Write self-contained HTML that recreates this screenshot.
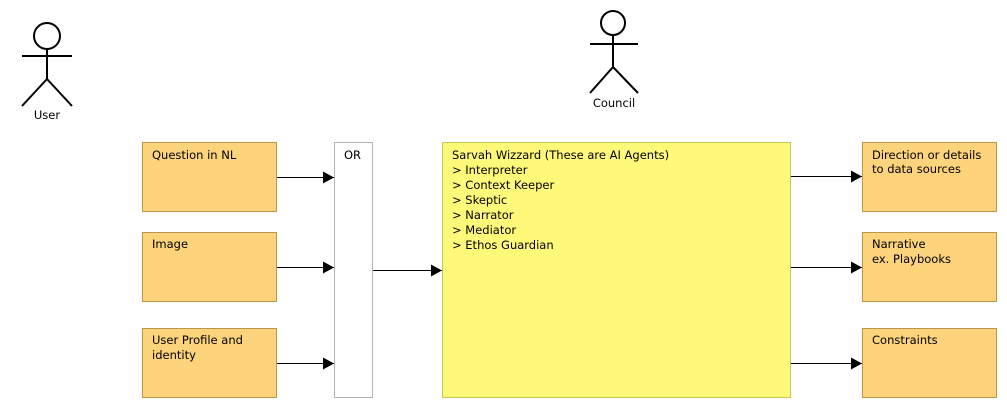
<!DOCTYPE html>
<html><head><meta charset="utf-8"><style>
html,body{margin:0;padding:0;background:#fff;}
svg{display:block;}
text{font-family:"DejaVu Sans","Liberation Sans",sans-serif;font-size:11.5px;fill:#000;}
</style></head><body>
<svg width="1007" height="408" viewBox="0 0 1007 408" xmlns="http://www.w3.org/2000/svg">
<defs>
<marker id="a" markerWidth="12" markerHeight="12" refX="11" refY="6" orient="auto" markerUnits="userSpaceOnUse">
<path d="M0,0 L11,6 L0,12 Z" fill="#000"/>
</marker>
</defs>
<g stroke="#000" stroke-width="2" fill="none">
<circle cx="47" cy="36" r="13"/>
<line x1="22" y1="56" x2="72" y2="56"/>
<line x1="47" y1="49" x2="47" y2="79"/>
<line x1="47" y1="79" x2="22" y2="106"/>
<line x1="47" y1="79" x2="72" y2="106"/>
</g>
<text x="47" y="119" text-anchor="middle">User</text>
<g stroke="#000" stroke-width="2" fill="none">
<circle cx="613" cy="23" r="12"/>
<line x1="590" y1="44" x2="638" y2="44"/>
<line x1="613" y1="35" x2="613" y2="67"/>
<line x1="613" y1="67" x2="590" y2="93"/>
<line x1="613" y1="67" x2="638" y2="93"/>
</g>
<text x="614" y="107" text-anchor="middle">Council</text>
<g fill="#fdd37b" stroke="#b8974a" stroke-width="1">
<rect x="142.5" y="142.5" width="134" height="69"/>
<rect x="142.5" y="232.5" width="134" height="69"/>
<rect x="142.5" y="328.5" width="134" height="69"/>
<rect x="862.5" y="142.5" width="134" height="69"/>
<rect x="862.5" y="232.5" width="134" height="69"/>
<rect x="862.5" y="328.5" width="134" height="69"/>
</g>
<text x="152" y="159">Question in NL</text>
<text x="152" y="248">Image</text>
<text x="152" y="344">User Profile and</text>
<text x="152" y="359">identity</text>
<text x="872" y="159">Direction or details</text>
<text x="872" y="173">to data sources</text>
<text x="872" y="248">Narrative</text>
<text x="872" y="263">ex. Playbooks</text>
<text x="872" y="344">Constraints</text>
<rect x="334.5" y="142.5" width="38" height="255" fill="#fff" stroke="#b3b3b3"/>
<text x="344" y="159">OR</text>
<rect x="442.5" y="142.5" width="348" height="255" fill="#fff97a" stroke="#c9c458"/>
<text x="452" y="159">Sarvah Wizzard (These are AI Agents)</text>
<text x="452" y="174">&gt; Interpreter</text>
<text x="452" y="189">&gt; Context Keeper</text>
<text x="452" y="204">&gt; Skeptic</text>
<text x="452" y="219">&gt; Narrator</text>
<text x="452" y="234">&gt; Mediator</text>
<text x="452" y="249">&gt; Ethos Guardian</text>
<g stroke="#000" stroke-width="1" marker-end="url(#a)">
<line x1="277" y1="177.5" x2="334" y2="177.5"/>
<line x1="277" y1="267.5" x2="334" y2="267.5"/>
<line x1="277" y1="363.5" x2="334" y2="363.5"/>
<line x1="373" y1="270.5" x2="442" y2="270.5"/>
<line x1="791" y1="176.5" x2="862" y2="176.5"/>
<line x1="791" y1="267.5" x2="862" y2="267.5"/>
<line x1="791" y1="363.5" x2="862" y2="363.5"/>
</g>
</svg>
</body></html>
